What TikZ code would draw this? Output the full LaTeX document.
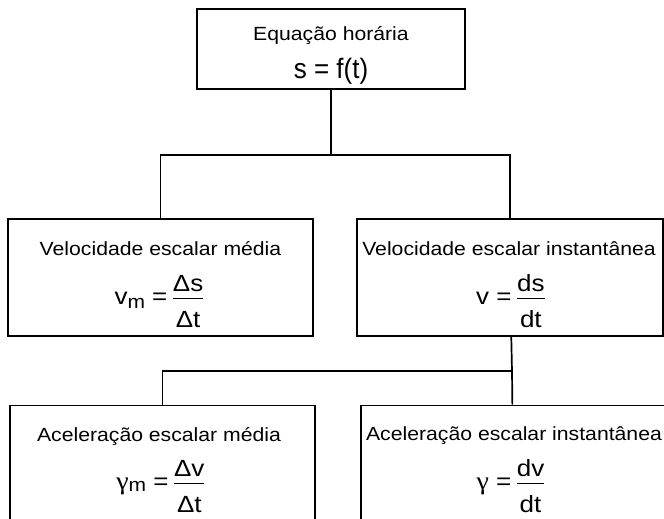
\documentclass[tikz,border=0pt]{standalone}
\usepackage{fontspec}
\setmainfont{Liberation Sans}
\newfontfamily\greekfont{Liberation Serif}
\usepackage{amsmath}
\usepackage{graphicx}
\newcommand{\squash}[1]{\scalebox{1}[0.9]{#1}}
\newcommand{\lowsub}[2]{\raisebox{-#1}{\fontsize{21}{21}\selectfont #2}}
\newcommand{\eqfrac}[2]{$\dfrac{\raisebox{-2.5pt}{#1}}{\rule{0pt}{28.5pt}\mbox{#2}}$}
\newcommand{\gam}{{\greekfont\fontsize{28}{30}\selectfont γ}}

\begin{document}
\begin{tikzpicture}[
    box/.style={draw, line width=1.7pt, rectangle, inner sep=0pt, minimum height=117pt},
    wire/.style={line width=1.7pt},
    title/.style={anchor=base, inner sep=0pt, font=\fontsize{21.2}{24}\selectfont},
    formula/.style={anchor=base, inner sep=0pt, font=\fontsize{26}{30}\selectfont}]
    \def\x{1pt}
    \def\y{-1pt}
    \useasboundingbox (0,0) rectangle (664*\x, 519*\y);
    \clip (0,0) rectangle (664*\x, 519*\y);
    % boxes
    \node[box, minimum width=268pt, minimum height=80pt] (A0_1) at (331*\x, 49*\y) {};
    \node[box, minimum width=305pt] (A1_0) at (160.5*\x, 277.5*\y) {};
    \node[box, minimum width=306pt] (A1_1) at (510*\x, 277.5*\y) {};
    \node[box, minimum width=305pt] (A2_0) at (162.5*\x, 464*\y) {};
    \node[box, minimum width=304pt] (A2_1) at (513*\x, 464*\y) {};
    % texts
    \node[title] (T0_1) at (331*\x, 40.5*\y) {\squash{Equação horária}};
    \node[formula] (F0_1) at (331*\x, 78.5*\y) {\scalebox{1}[1.08]{s = f(t)}};
    \node[title] (T1_0) at (160.5*\x, 255.5*\y) {\squash{Velocidade escalar média}};
    \node[formula] (F1_0) at (159.5*\x, 304.5*\y) {\squash{v\lowsub{4pt}{m} =\,\eqfrac{Δs}{Δt}}};
    \node[title] (T1_1) at (509*\x, 255.5*\y) {\squash{Velocidade escalar instantânea}};
    \node[formula] (F1_1) at (511*\x, 304.5*\y) {\squash{v =\,\eqfrac{ds}{dt}}};
    \node[title] (T2_0) at (159*\x, 441*\y) {\squash{Aceleração escalar média}};
    \node[formula] (F2_0) at (161*\x, 489.5*\y) {\squash{\gam\lowsub{2pt}{m} =\,\eqfrac{Δv}{Δt}}};
    \node[title] (T2_1) at (514*\x, 440.5*\y) {\squash{Aceleração escalar instantânea}};
    \node[formula] (F2_1) at (511*\x, 489.5*\y) {\squash{\gam{} =\,\eqfrac{dv}{dt}}};
    % connectors
    \coordinate (J0) at (331*\x, 155*\y);
    \coordinate (J1) at (512*\x, 371*\y);
    \draw[wire] (A0_1) -- (J0);
    \draw[wire] (A1_0) |- (J0) -| (A1_1);
    \draw[wire] (A1_1) -- (J1) -- (A2_1);
    \draw[wire] (A2_0) |- (J1);
\end{tikzpicture}
\end{document}
